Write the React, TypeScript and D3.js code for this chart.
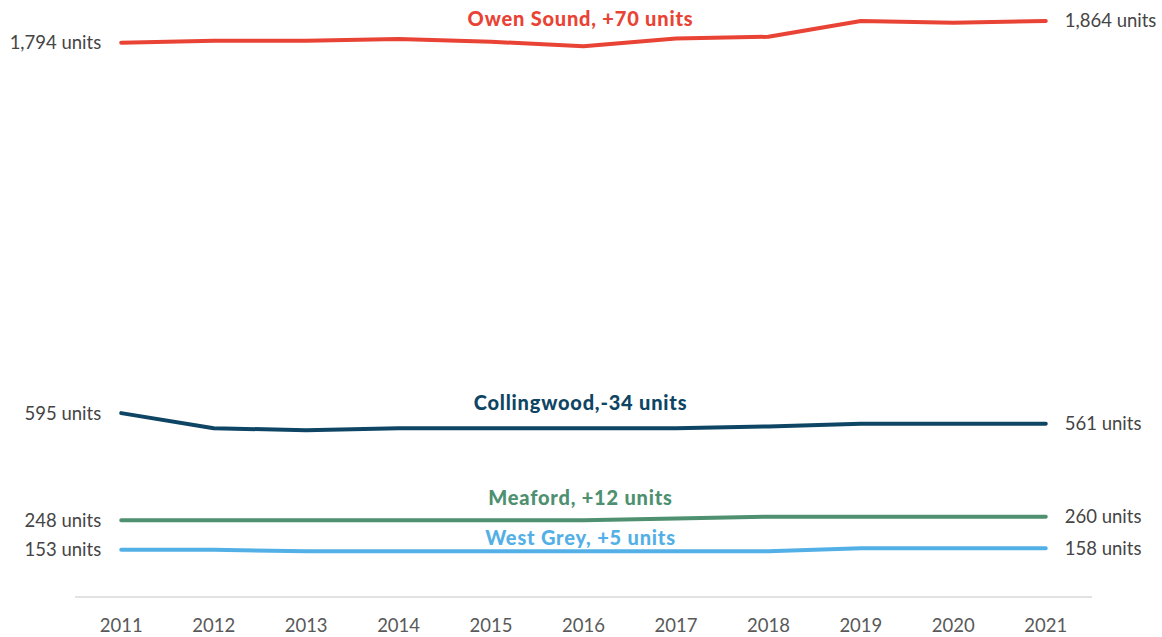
import React from "react";
import * as d3 from "d3";

const years = ["2011","2012","2013","2014","2015","2016","2017","2018","2019","2020","2021"];
const owenSound = [1794,1800,1800,1806,1797,1782,1807,1813,1864,1858,1864];
const collingwood = [595,546,540,546,546,546,546,552,561,561,561];
const meaford = [248,248,248,248,248,248,254,260,260,260,260];
const westGrey = [153,153,148,148,148,148,148,148,158,158,158];

const seriesNames = ["Owen Sound, +70 units","Collingwood,-34 units","Meaford, +12 units","West Grey, +5 units"];
const seriesColors = ["#e84334","#0f4564","#4e9070","#53b0e6"];
const seriesValues = [owenSound, collingwood, meaford, westGrey];

const W = 1162, H = 637;

export default function App() {
  const x = d3.scaleBand<string>().domain(years).range([75, 1092]).padding(0);
  const cx = (yr: string) => (x(yr) as number) + x.bandwidth() / 2;
  const y = d3.scaleLinear().domain([0, 1864]).range([597, 21]);
  const line = d3.line<number>().x((_, i) => cx(years[i])).y(d => y(d));
  const fmt = d3.format(",");
  const labelOffset = [-27, -25, -22, -13];
  const midYear = "2016";
  return (
    <svg width={W} height={H} style={{ position: "absolute", left: 0, top: 0, background: "#fff" }}>
      <line x1={x.range()[0]} x2={x.range()[1]} y1={y(0)} y2={y(0)} stroke="#d9d9d9" strokeWidth={1.5} />
      {years.map(yr => (
        <text key={yr} x={cx(yr)} y={632} textAnchor="middle" fontFamily="Lato, 'Open Sans', sans-serif" fontSize={18.5} fill="#595959">{yr}</text>
      ))}
      {seriesValues.map((vals, si) => (
        <g key={si}>
          <path d={line(vals) as string} fill="none" stroke={seriesColors[si]} strokeWidth={4} strokeLinecap="round" strokeLinejoin="round" />
          <text x={cx(years[0]) - 20} y={y(vals[0])} dy="0.35em" textAnchor="end" fontFamily="Lato, 'Open Sans', sans-serif" fontSize={18.5} fill="#454545">{fmt(vals[0])} units</text>
          <text x={cx(years[years.length - 1]) + 19} y={y(vals[vals.length - 1])} dy="0.35em" textAnchor="start" fontFamily="Lato, 'Open Sans', sans-serif" fontSize={18.5} fill="#454545">{fmt(vals[vals.length - 1])} units</text>
          <text x={cx(midYear) - 3} y={y(vals[5]) + labelOffset[si]} dy="0.35em" textAnchor="middle" fontFamily="Lato, sans-serif" fontWeight={900} fontSize={20} letterSpacing={0.8} fill={seriesColors[si]}>{seriesNames[si]}</text>
        </g>
      ))}
    </svg>
  );
}
